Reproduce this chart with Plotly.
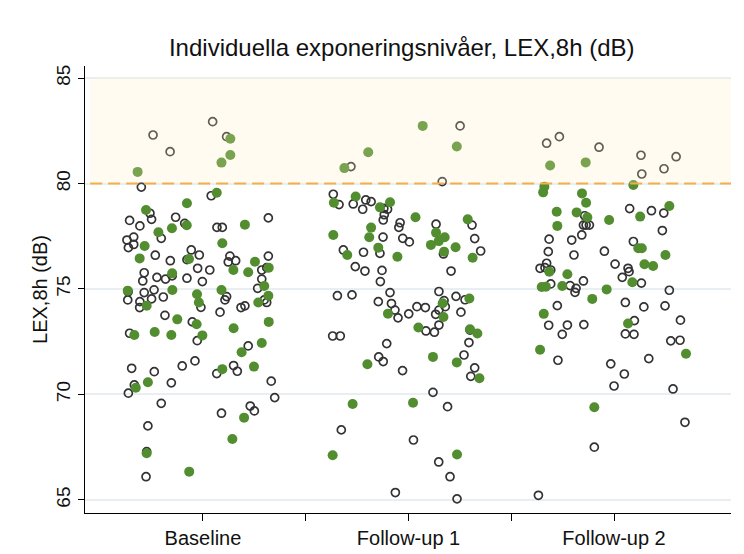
import plotly.graph_objects as go

categories = ["Baseline", "Follow-up 1", "Follow-up 2"]
cat_pos = [1, 2, 3]

# --- Baseline ---
base_open_jit = [-0.243, 0.047, 0.115, -0.16, -0.30, 0.04, -0.258, -0.25, -0.357, -0.133, -0.089, 0.318, -0.307, 0.068, 0.094, -0.203, -0.337, -0.37, -0.337, -0.363, -0.057, -0.018, -0.232, -0.159, -0.078, 0.131, 0.123, 0.159, 0.318, 0.286, 0.31, -0.286, -0.15, -0.026, 0.033, -0.224, -0.182, -0.293, -0.078, -0.003, 0.286, 0.266, -0.364, -0.366, -0.286, -0.238, -0.25, -0.307, -0.308, -0.193, -0.01, 0.115, 0.107, 0.298, 0.31, 0.185, 0.204, 0.083, -0.185, -0.052, -0.357, -0.028, 0.22, -0.347, -0.237, -0.101, -0.039, 0.067, 0.149, 0.167, -0.154, -0.334, -0.363, 0.332, 0.349, -0.203, 0.09, 0.23, 0.25, -0.268, -0.274, -0.277]
base_open_lex = [82.30, 82.93, 82.22, 81.51, 79.83, 79.42, 78.59, 78.30, 78.25, 78.40, 78.11, 78.37, 77.99, 77.92, 77.92, 77.40, 77.46, 77.32, 77.11, 76.96, 76.85, 76.61, 76.60, 76.34, 76.39, 76.56, 76.28, 76.34, 76.56, 75.90, 76.01, 75.77, 75.62, 75.98, 75.90, 75.55, 75.47, 75.38, 75.51, 75.35, 75.47, 75.03, 74.87, 74.48, 74.83, 74.96, 74.53, 74.40, 74.12, 74.62, 74.13, 74.64, 74.48, 74.48, 74.36, 74.12, 74.20, 73.90, 73.75, 73.44, 72.90, 72.55, 72.30, 71.24, 71.08, 71.35, 71.59, 70.99, 71.37, 71.10, 70.55, 70.45, 70.06, 70.63, 69.85, 69.58, 69.11, 69.45, 69.22, 68.51, 67.29, 66.10]
base_fill_jit = [0.133, 0.133, 0.09, -0.318, 0.067, -0.078, -0.277, -0.079, 0.204, -0.151, -0.217, -0.284, 0.094, -0.308, -0.068, 0.253, 0.148, 0.22, 0.32, -0.15, 0.298, -0.366, -0.274, -0.149, -0.029, -0.02, 0.09, 0.318, 0.269, -0.125, -0.031, 0.32, 0.149, -0.334, -0.235, -0.154, -0.003, 0.286, 0.188, 0.094, 0.248, -0.268, -0.327, 0.2, 0.143, -0.274, -0.067]
base_fill_lex = [82.12, 81.35, 80.99, 80.55, 79.56, 79.06, 78.74, 78.02, 78.05, 77.88, 77.69, 77.04, 77.17, 76.45, 76.42, 76.29, 75.90, 75.79, 76.01, 75.74, 75.14, 74.92, 74.21, 74.95, 74.75, 74.36, 74.95, 74.68, 74.36, 73.56, 73.33, 73.44, 73.14, 72.82, 72.96, 72.82, 72.80, 72.44, 72.00, 71.20, 71.32, 70.58, 70.32, 68.90, 67.89, 67.21, 66.34]

# --- Follow-up 1 ---
fu1_open_jit = [0.251, -0.28, 0.164, -0.366, -0.338, -0.269, -0.223, -0.208, -0.182, -0.12, -0.102, -0.118, -0.123, -0.041, -0.047, 0.134, 0.309, -0.124, -0.028, 0.004, 0.322, 0.351, -0.317, -0.139, -0.219, 0.17, -0.259, -0.212, -0.129, -0.137, 0.207, -0.346, -0.275, -0.147, -0.09, -0.083, -0.066, -0.051, 0.001, 0.041, 0.082, 0.148, 0.173, 0.179, 0.148, 0.132, 0.231, 0.275, 0.255, 0.148, 0.085, 0.126, 0.299, -0.369, -0.332, -0.106, 0.294, -0.145, -0.123, 0.27, -0.029, 0.322, 0.303, 0.119, 0.19, -0.327, 0.024, 0.147, 0.202, -0.064, 0.236]
fu1_open_lex = [82.73, 80.80, 80.09, 79.49, 79.00, 79.03, 78.78, 79.22, 79.14, 78.82, 78.78, 78.52, 78.27, 78.14, 77.92, 78.07, 78.03, 77.46, 77.40, 77.23, 77.39, 76.80, 76.85, 76.69, 76.74, 76.66, 76.06, 75.85, 75.88, 75.35, 75.85, 74.68, 74.72, 74.40, 74.83, 74.31, 74.00, 73.63, 73.82, 74.16, 74.12, 74.88, 74.45, 74.16, 74.00, 73.80, 74.65, 74.49, 73.90, 73.29, 73.01, 72.95, 73.05, 72.77, 72.77, 72.41, 72.46, 71.78, 71.56, 71.87, 71.13, 71.26, 70.86, 70.10, 69.42, 68.32, 67.84, 66.80, 66.10, 65.35, 65.05]
fu1_fill_jit = [0.069, -0.196, 0.235, -0.312, -0.363, -0.257, -0.09, -0.139, 0.034, -0.182, 0.288, -0.366, -0.191, 0.134, 0.176, 0.147, 0.109, 0.229, -0.298, -0.147, 0.173, -0.054, 0.312, -0.1, 0.166, 0.17, 0.296, 0.048, 0.299, 0.335, -0.2, 0.119, 0.235, 0.345, -0.272, 0.022, -0.369, 0.236]
fu1_fill_lex = [82.73, 81.48, 81.75, 80.73, 79.09, 79.38, 79.11, 78.87, 78.40, 77.91, 78.30, 77.56, 77.45, 77.67, 77.45, 77.27, 77.09, 76.98, 76.61, 76.96, 76.77, 76.53, 76.48, 73.83, 74.32, 73.67, 74.55, 73.17, 73.09, 72.89, 71.43, 71.78, 71.52, 70.77, 69.55, 69.61, 67.12, 67.15]

# --- Follow-up 2 ---
fu2_open_jit = [-0.328, -0.266, -0.073, 0.131, 0.135, 0.243, 0.302, -0.143, -0.149, -0.12, -0.136, 0.076, 0.182, 0.242, -0.157, -0.316, -0.206, 0.235, 0.094, -0.32, -0.195, -0.047, -0.328, -0.36, -0.336, -0.308, 0.005, 0.068, 0.073, 0.04, -0.149, -0.308, -0.214, -0.185, -0.19, 0.133, 0.269, 0.055, 0.145, 0.248, -0.276, -0.318, -0.227, -0.252, -0.147, 0.099, 0.055, 0.097, 0.323, 0.276, 0.321, -0.273, 0.169, -0.016, 0.05, 0.0, 0.287, 0.345, -0.096, -0.368]
fu2_open_lex = [81.91, 82.22, 81.72, 81.34, 80.45, 80.70, 81.27, 78.47, 78.03, 78.03, 78.03, 78.81, 78.71, 78.60, 77.56, 77.36, 77.32, 77.77, 77.25, 76.77, 76.61, 76.79, 76.22, 75.98, 76.01, 75.90, 76.18, 75.98, 75.82, 75.55, 75.38, 75.24, 75.16, 75.03, 74.84, 75.28, 74.94, 74.36, 74.15, 74.20, 74.21, 73.28, 73.29, 72.85, 73.31, 73.50, 72.87, 72.85, 73.52, 72.54, 72.57, 71.62, 71.70, 71.45, 70.97, 70.40, 70.26, 68.68, 67.50, 65.22]
fu2_fill_jit = [-0.311, -0.138, -0.339, -0.345, 0.094, -0.156, -0.136, -0.279, -0.182, -0.13, -0.276, -0.024, 0.269, 0.127, 0.118, 0.135, 0.25, -0.315, 0.148, 0.19, -0.227, -0.352, -0.332, -0.252, 0.089, -0.036, -0.106, -0.342, 0.068, -0.36, 0.35, -0.096]
fu2_fill_lex = [80.85, 81.00, 79.85, 79.58, 79.93, 79.53, 79.09, 78.66, 78.63, 78.40, 77.99, 78.27, 78.93, 78.43, 76.93, 76.93, 76.61, 75.82, 76.17, 76.09, 75.70, 75.09, 75.11, 75.14, 75.32, 74.98, 74.53, 73.82, 73.36, 72.12, 71.93, 69.39]

y_ticks = [65, 70, 75, 80, 85]
limit_db = 80
top_db = 85

groups = [
    (cat_pos[0], base_open_jit, base_open_lex, base_fill_jit, base_fill_lex),
    (cat_pos[1], fu1_open_jit, fu1_open_lex, fu1_fill_jit, fu1_fill_lex),
    (cat_pos[2], fu2_open_jit, fu2_open_lex, fu2_fill_jit, fu2_fill_lex),
]

OPEN_COLOR = "#333333"
FILL_COLOR = "#528d2f"
FONT = "Liberation Sans, Arial, sans-serif"

fig = go.Figure()
for pos, oj, oy, fj, fy in groups:
    fig.add_trace(go.Scatter(
        x=[pos + j for j in oj], y=oy, mode="markers",
        marker=dict(symbol="circle-open", size=8, color=OPEN_COLOR,
                    line=dict(width=1.7, color=OPEN_COLOR)),
        showlegend=False, hoverinfo="skip"))
    fig.add_trace(go.Scatter(
        x=[pos + j for j in fj], y=fy, mode="markers",
        marker=dict(symbol="circle", size=10, color=FILL_COLOR, line=dict(width=0)),
        showlegend=False, hoverinfo="skip"))

# shaded zone above the limit, drawn over the markers
fig.add_shape(type="rect", xref="paper", yref="y", x0=0.008, x1=1,
              y0=limit_db, y1=top_db, layer="above",
              line=dict(width=0), fillcolor="rgba(255,238,190,0.23)")
# dashed limit line
fig.add_shape(type="line", xref="paper", yref="y", x0=0.008, x1=1,
              y0=limit_db, y1=limit_db, layer="above",
              line=dict(color="#f4ae4a", width=2, dash="12px,6px"))

fig.update_layout(
    template="none",
    width=744, height=554,
    margin=dict(l=85, r=13, t=66, b=41, autoexpand=False),
    paper_bgcolor="white", plot_bgcolor="white",
    font=dict(family=FONT, color="#111111"),
    title=dict(text="Individuella exponeringsnivåer, LEX,8h (dB)",
               font=dict(size=24, family=FONT, color="#111111"),
               x=0.540, xref="container", xanchor="center",
               y=1 - 48 / 554, yref="container", yanchor="middle"),
    showlegend=False,
)
fig.update_xaxes(
    automargin=False,
    range=[0.426, 3.569], tickmode="array", tickvals=cat_pos, ticktext=categories,
    showgrid=False, zeroline=False, showline=True, linecolor="black", linewidth=1,
    ticks="outside", ticklen=7, tickwidth=1, tickcolor="black",
    tickfont=dict(size=20, family=FONT),
    minor=dict(tickmode="array", tickvals=[1.5, 2.5], ticks="outside", ticklen=7,
               tickwidth=1, tickcolor="black", showgrid=False),
)
fig.update_yaxes(
    automargin=False,
    range=[64.38, 85.57], tickmode="array", tickvals=y_ticks,
    showgrid=True, gridcolor="#e8eef2", gridwidth=1.5, zeroline=False,
    showline=True, linecolor="black", linewidth=1,
    ticks="outside", ticklen=6, tickwidth=1, tickcolor="black",
    tickangle=-90, tickfont=dict(size=19, family=FONT),
    title=dict(text="LEX,8h (dB)", font=dict(size=20, family=FONT), standoff=0),
)

fig.write_html("out.html",
               config={"displayModeBar": False},
               post_script="document.body.style.margin='0';document.body.style.padding='0';")
